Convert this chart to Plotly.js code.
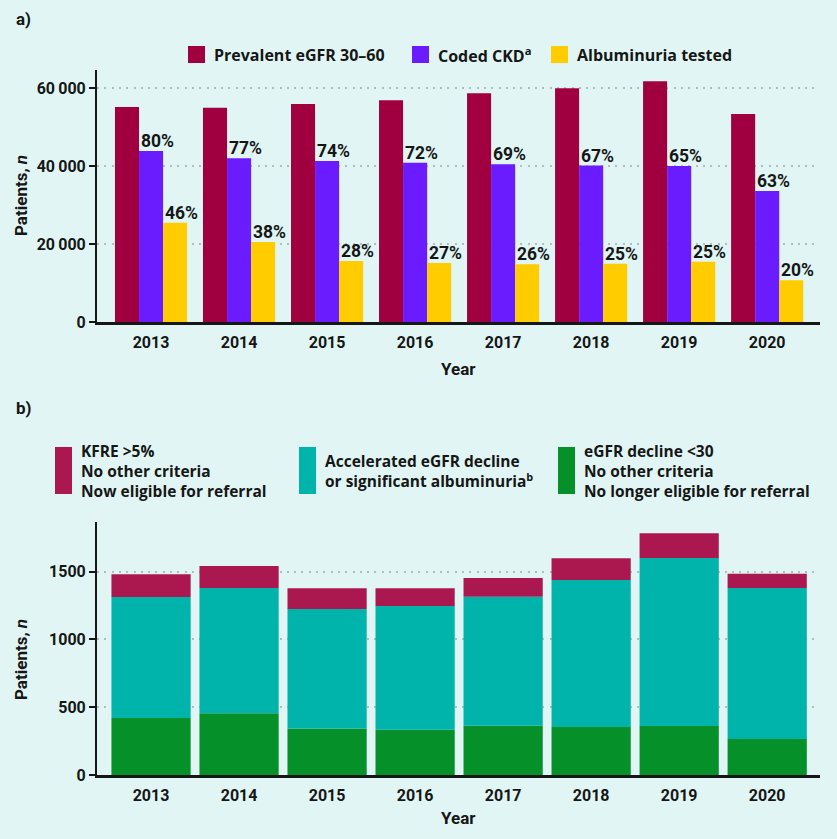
<!DOCTYPE html>
<html>
<head>
<meta charset="utf-8">
<script src="https://cdn.plot.ly/plotly-3.0.1.min.js"></script>
<style>
html,body{margin:0;padding:0;background:#E1F6F4;}
#chart{width:837px;height:839px;}
</style>
</head>
<body>
<div id="chart"></div>
<script>
// ---- data ----
const years = ['2013','2014','2015','2016','2017','2018','2019','2020'];

const prevalentEgfr = [55100, 54950, 55900, 56850, 58650, 59900, 61700, 53300];
const codedCKD      = [43850, 41950, 41300, 40850, 40450, 40100, 40000, 33600];
const albTested     = [25450, 20500, 15650, 15150, 14800, 14950, 15450, 10700];
const codedPct      = ['80%','77%','74%','72%','69%','67%','65%','63%'];
const albPct        = ['46%','38%','28%','27%','26%','25%','25%','20%'];

const topNames = ['Prevalent eGFR 30\u201360', 'Coded CKD<sup>a</sup>', 'Albuminuria tested'];
const topTickVals = [0, 20000, 40000, 60000];
const topTickText = ['0', '20\u2009000', '40\u2009000', '60\u2009000'];

const eGFRDecline   = [420, 455, 342, 334, 364, 354, 361, 265];
const accelerated   = [893, 924, 882, 912, 951, 1084, 1239, 1114];
const kfreOnly      = [167, 162, 153, 131, 138, 160, 182, 106];

const bottomNames = [
  'KFRE >5%<br>No other criteria<br>Now eligible for referral',
  'Accelerated eGFR decline<br>or significant albuminuria<sup>b</sup>',
  'eGFR decline <30<br>No other criteria<br>No longer eligible for referral'
];
const bottomTickVals = [0, 500, 1000, 1500];

// ---- styling ----
const W = 837, H = 839;
const FONT = 'Roboto, "DejaVu Sans", sans-serif';
const LFONT = '"Open Sans", Roboto, sans-serif';
const INK = '#161616';
const topColors = ['#A0003F', '#6A1CFF', '#FFCC00'];
const botColors = ['#AB1850', '#00B3AB', '#05902A'];
const px = x => x / W;
const py = y => 1 - y / H;

const plotL = 97, plotR = 820;
const xRange = [-0.614, 7.6];

const traces = [];
[prevalentEgfr, codedCKD, albTested].forEach((vals, i) => {
  traces.push({
    type: 'bar', x: years, y: vals, name: topNames[i],
    marker: {color: topColors[i], line: {width: 0}},
    xaxis: 'x', yaxis: 'y', showlegend: false, hoverinfo: 'x+y'
  });
});
// bottom: stacked, bottom to top
const stackSeries = [eGFRDecline, accelerated, kfreOnly];
const stackColorIdx = [2, 1, 0];
let running = years.map(() => 0);
stackSeries.forEach((vals, i) => {
  const base = running.slice();
  traces.push({
    type: 'bar', x: years, y: vals, base: base,
    name: bottomNames[stackColorIdx[i]],
    marker: {color: botColors[stackColorIdx[i]], line: {width: 0}},
    offsetgroup: 'stack', width: 0.9,
    xaxis: 'x2', yaxis: 'y2', showlegend: false, hoverinfo: 'x+y'
  });
  running = running.map((r, k) => r + vals[k]);
});

const annotations = [];
const shapes = [];
const boldFont = (size, fam) => ({family: fam || FONT, size: size, color: INK, weight: 700});

// bar-top percentage labels
const groupW = 0.82, barW = groupW / 3;
years.forEach((yr, i) => {
  annotations.push({
    xref: 'x', yref: 'y', x: i - barW / 2, y: codedCKD[i], text: codedPct[i],
    showarrow: false, xanchor: 'left', yanchor: 'bottom', xshift: 0, yshift: -2,
    font: boldFont(17.5)
  });
  annotations.push({
    xref: 'x', yref: 'y', x: i + barW / 2, y: albTested[i], text: albPct[i],
    showarrow: false, xanchor: 'left', yanchor: 'bottom', xshift: 0, yshift: -2,
    font: boldFont(17.5)
  });
});

// panel labels
annotations.push({xref:'paper', yref:'paper', x: px(14), y: py(19), text: 'a)', showarrow:false,
  xanchor:'left', yanchor:'middle', font: boldFont(17)});
annotations.push({xref:'paper', yref:'paper', x: px(14), y: py(408), text: 'b)', showarrow:false,
  xanchor:'left', yanchor:'middle', font: boldFont(17)});

// axis titles
annotations.push({xref:'paper', yref:'paper', x: px(21), y: py(196), text: 'Patients, <i>n</i>', showarrow:false,
  textangle: -90, xanchor:'center', yanchor:'middle', font: boldFont(17)});
annotations.push({xref:'paper', yref:'paper', x: px(21), y: py(660), text: 'Patients, <i>n</i>', showarrow:false,
  textangle: -90, xanchor:'center', yanchor:'middle', font: boldFont(17)});
annotations.push({xref:'paper', yref:'paper', x: px(458), y: py(369), text: 'Year', showarrow:false,
  xanchor:'center', yanchor:'middle', font: boldFont(17)});
annotations.push({xref:'paper', yref:'paper', x: px(458), y: py(818), text: 'Year', showarrow:false,
  xanchor:'center', yanchor:'middle', font: boldFont(17)});

// top legend (manual)
const topLegX = [188, 412, 551];
topNames.forEach((nm, i) => {
  shapes.push({type:'rect', xref:'paper', yref:'paper', x0: px(topLegX[i]), x1: px(topLegX[i] + 17),
    y0: py(63), y1: py(46), fillcolor: topColors[i], line: {width: 0}});
  annotations.push({xref:'paper', yref:'paper', x: px(topLegX[i] + 24), y: py(54.5), text: nm,
    showarrow:false, xanchor:'left', yanchor:'middle', font: boldFont(16, LFONT)});
});

// bottom legend (manual)
const botLegX = [55, 299, 558];
bottomNames.forEach((nm, i) => {
  shapes.push({type:'rect', xref:'paper', yref:'paper', x0: px(botLegX[i]), x1: px(botLegX[i] + 17),
    y0: py(494), y1: py(447), fillcolor: botColors[i], line: {width: 0}});
  annotations.push({xref:'paper', yref:'paper', x: px(botLegX[i] + 24), y: py(471), text: nm,
    showarrow:false, xanchor:'left', yanchor:'middle', align:'left', font: boldFont(15.5, LFONT)});
});

const yCommon = {
  showline: true, linecolor: INK, linewidth: 2,
  ticks: 'outside', ticklen: 6, tickwidth: 2, tickcolor: INK,
  tickfont: boldFont(16),
  showgrid: true, gridcolor: '#B3BDBC', gridwidth: 2, griddash: '2px,5.3px',
  zeroline: false, automargin: false, fixedrange: true
};
const xCommon = {
  type: 'category', range: xRange,
  showline: true, linecolor: INK, linewidth: 2.5,
  ticks: '', tickfont: boldFont(16), showgrid: false, zeroline: false,
  automargin: false, fixedrange: true, ticklabelstandoff: 4
};

const layout = {
  width: W, height: H,
  margin: {l: 0, r: 0, t: 0, b: 0, pad: 0},
  paper_bgcolor: '#E1F6F4', plot_bgcolor: 'rgba(0,0,0,0)',
  font: {family: FONT, color: INK},
  barmode: 'group', bargap: 0.18, bargroupgap: 0,
  showlegend: false,
  xaxis: Object.assign({}, xCommon, {domain: [px(plotL), px(plotR)], anchor: 'y'}),
  yaxis: Object.assign({}, yCommon, {domain: [py(322), py(70)], anchor: 'x',
    range: [0, 64600], tickvals: topTickVals, ticktext: topTickText}),
  xaxis2: Object.assign({}, xCommon, {domain: [px(plotL), px(plotR)], anchor: 'y2'}),
  yaxis2: Object.assign({}, yCommon, {domain: [py(775), py(521.7)], anchor: 'x2',
    range: [0, 1868], tickvals: bottomTickVals}),
  annotations: annotations,
  shapes: shapes
};

Plotly.newPlot('chart', traces, layout, {displayModeBar: false, staticPlot: true});
</script>
</body>
</html>
